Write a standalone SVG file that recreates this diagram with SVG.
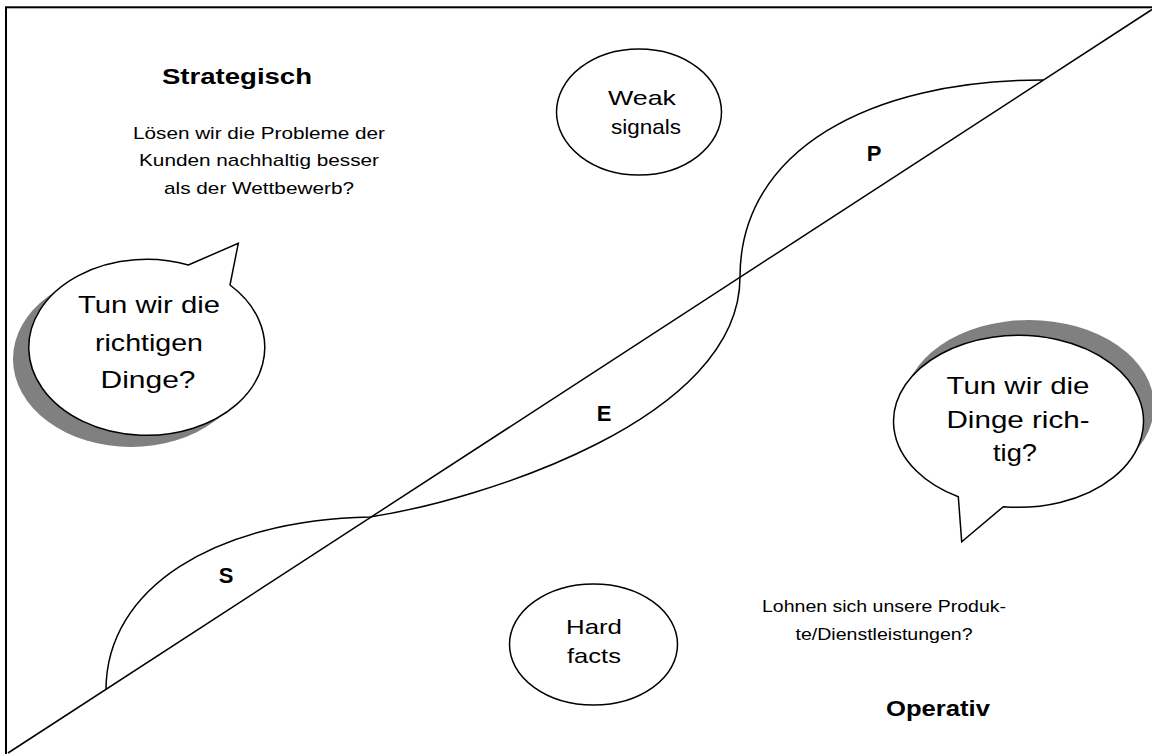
<svg xmlns="http://www.w3.org/2000/svg" width="1152" height="754" viewBox="0 0 1152 754">
<style>
text{font-family:"Liberation Sans",Arial,sans-serif;fill:#000;text-anchor:middle}
.b{font-weight:bold}
.ln{fill:none;stroke:#000;stroke-width:1.5}
.sh{fill:#808080;stroke:none}
.bub{fill:#fff;stroke:#000;stroke-width:1.5;stroke-linejoin:miter}
.ov{fill:#fff;stroke:#000;stroke-width:1.5}
</style>
<rect x="0" y="0" width="1152" height="754" fill="#fff"/>
<rect x="6" y="7.3" width="1170" height="770" fill="none" stroke="#000" stroke-width="2"/>
<g id="connectors">
<path class="ln" d="M8,753 L1152,9.5"/>
<path class="ln" d="M106,690 C106,588 215,520 370,517 C480,500 740,420 740,277 C740,150 870,80 1043,80"/>
</g>
<g id="labels">
<text class="b" x="226" y="583" font-size="22">S</text>
<text class="b" x="604" y="421" font-size="22">E</text>
<text class="b" x="874" y="161" font-size="22">P</text>
</g>
<g id="strategisch">
<text class="b" x="237" y="84" font-size="22" textLength="150" lengthAdjust="spacingAndGlyphs">Strategisch</text>
<text x="259" y="139" font-size="17" textLength="252" lengthAdjust="spacingAndGlyphs">Lösen wir die Probleme der</text>
<text x="259" y="166" font-size="17" textLength="240" lengthAdjust="spacingAndGlyphs">Kunden nachhaltig besser</text>
<text x="259" y="194" font-size="17" textLength="190" lengthAdjust="spacingAndGlyphs">als der Wettbewerb?</text>
</g>
<g id="operativ">
<text x="884" y="612" font-size="17" textLength="244" lengthAdjust="spacingAndGlyphs">Lohnen sich unsere Produk-</text>
<text x="884" y="640" font-size="17" textLength="177" lengthAdjust="spacingAndGlyphs">te/Dienstleistungen?</text>
<text class="b" x="938" y="716" font-size="22" textLength="104" lengthAdjust="spacingAndGlyphs">Operativ</text>
</g>
<g id="weak-signals">
<ellipse class="ov" cx="639" cy="112" rx="82.5" ry="63"/>
<text x="642" y="105" font-size="21" textLength="68" lengthAdjust="spacingAndGlyphs">Weak</text>
<text x="646" y="134" font-size="21" textLength="70" lengthAdjust="spacingAndGlyphs">signals</text>
</g>
<g id="hard-facts">
<ellipse class="ov" cx="593.5" cy="644.5" rx="84" ry="60.5"/>
<text x="594" y="634" font-size="21" textLength="56" lengthAdjust="spacingAndGlyphs">Hard</text>
<text x="594" y="663" font-size="21" textLength="54" lengthAdjust="spacingAndGlyphs">facts</text>
</g>
<g id="bubble-left">
<ellipse class="sh" cx="131" cy="359" rx="118" ry="88"/>
<path class="bub" d="M188.3,265 L238.3,243.3 L230,285 A118,88 0 1 1 188.3,265 Z"/>
<text x="149" y="313" font-size="24" textLength="142" lengthAdjust="spacingAndGlyphs">Tun wir die</text>
<text x="149" y="351" font-size="24" textLength="108" lengthAdjust="spacingAndGlyphs">richtigen</text>
<text x="148" y="388" font-size="24" textLength="95" lengthAdjust="spacingAndGlyphs">Dinge?</text>
</g>
<g id="bubble-right">
<ellipse class="sh" cx="1029" cy="406" rx="125" ry="86"/>
<path class="bub" d="M1003.3,506.7 L961.7,541.7 L958.3,496.7 A125,86 0 1 1 1003.3,506.7 Z"/>
<text x="1018" y="394" font-size="24" textLength="143" lengthAdjust="spacingAndGlyphs">Tun wir die</text>
<text x="1018" y="428" font-size="24" textLength="143" lengthAdjust="spacingAndGlyphs">Dinge rich-</text>
<text x="1015" y="461" font-size="24" textLength="44" lengthAdjust="spacingAndGlyphs">tig?</text>
</g>
</svg>
